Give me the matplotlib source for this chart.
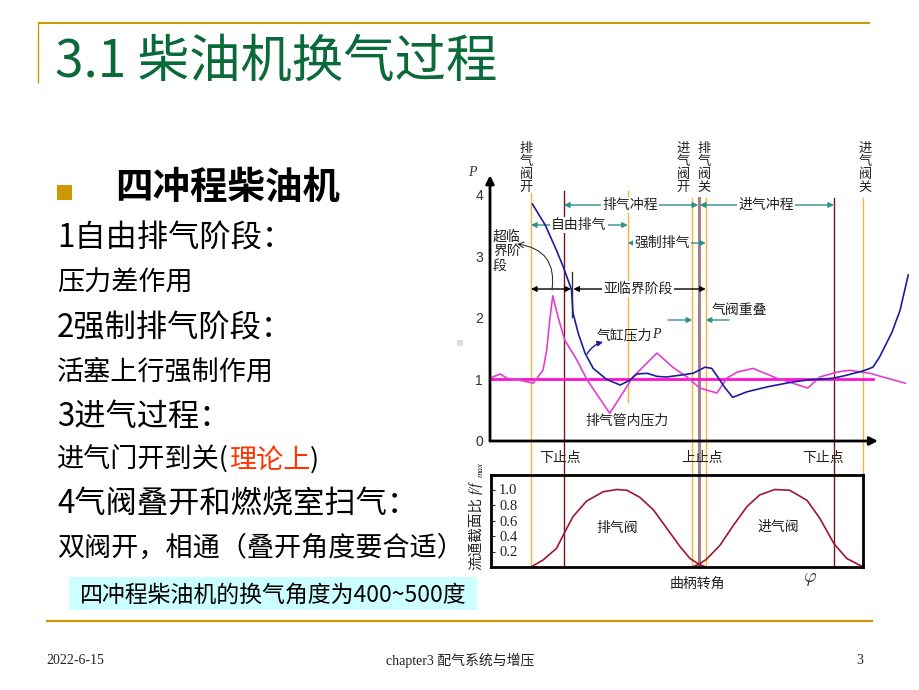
import matplotlib
matplotlib.use('Agg')
import matplotlib.pyplot as plt
from matplotlib import transforms
from matplotlib.patches import Rectangle

plt.rcParams['font.family'] = ['Noto Sans CJK SC', 'DejaVu Sans']
plt.rcParams['axes.unicode_minus'] = False

# ---------------- data (crank angle in degrees) ----------------
EVO, BDC1, FREE_END, IVO, TDC, EVC, BDC2, IVC = 136, 180, 265, 351, 360, 369, 540, 579
CRIT_END = 191          # end of the supercritical outflow phase

cyl_angle = [138, 155, 170, 179, 190, 192, 199, 208, 219, 237, 255, 268, 277, 291, 304,
             317, 335, 352, 368, 377, 385, 395, 405, 424, 451, 485, 504, 539, 557, 579,
             592, 601, 617, 628, 639]
cyl_p = [3.85, 3.51, 3.10, 2.83, 2.46, 2.08, 1.75, 1.43, 1.18, 1.00, 0.91, 0.99, 1.09, 1.10, 1.05,
         1.04, 1.07, 1.10, 1.20, 1.18, 1.04, 0.86, 0.71, 0.80, 0.88, 0.96, 0.99, 1.02, 1.07, 1.14,
         1.20, 1.37, 1.76, 2.12, 2.70]

pipe_angle = [81, 95, 104, 121, 139, 152, 157, 161, 165, 172, 181, 197, 211, 241, 272, 304,
              325, 344, 361, 384, 397, 411, 432, 464, 485, 505, 521, 544, 561, 588, 611, 635]
pipe_p = [1.02, 1.09, 1.02, 0.99, 0.94, 1.15, 1.48, 1.97, 2.36, 2.02, 1.64, 1.32, 0.99, 0.45, 1.04, 1.43,
          1.20, 1.04, 0.86, 0.78, 1.02, 1.12, 1.18, 1.02, 0.94, 0.86, 1.04, 1.12, 1.15, 1.10, 1.02, 0.94]

ambient_p = 1.0
ambient_range = [81, 592]

ex_angle = [136, 152, 170, 180, 192, 210, 232, 250, 264, 281, 299, 317, 335, 348, 360, 369]
ex_ratio = [0.0, 0.09, 0.24, 0.43, 0.65, 0.85, 0.97, 1.00, 0.99, 0.90, 0.74, 0.50, 0.26, 0.11, 0.035, 0.0]
in_angle = [351, 360, 370, 388, 406, 424, 441, 461, 481, 504, 521, 540, 557, 579]
in_ratio = [0.0, 0.035, 0.10, 0.28, 0.54, 0.78, 0.93, 1.00, 0.99, 0.86, 0.63, 0.30, 0.11, 0.0]

p_ticks = [0, 1, 2, 3, 4]
ratio_ticks = [0.2, 0.4, 0.6, 0.8, 1.0]
ratio_ticklabels = ['0.2', '0.4', '0.6', '0.8', '1.0']

# ---------------- layout helpers ----------------
W, H = 920, 690
fig = plt.figure(figsize=(W / 100, H / 100), dpi=100)
fig.patch.set_facecolor('white')


def rect(l, t, r, b):
    return [l / W, 1 - b / H, (r - l) / W, (b - t) / H]


A0, PPD = 429.0, 0.75       # pixel of 0 deg, pixels per degree


def ang(px):
    return (px - A0) / PPD


GOLD = '#cc9900'
GREEN = '#0a6a3a'
TEAL = '#2f9090'
ORANGE = '#f2b43c'
MAROON = '#7a1515'
BROWN = '#a88080'
BLUE = '#1c1ca0'
PINK = '#e040d0'
MAGENTA = '#ff10d0'
CRIMSON = '#a01535'

bg = fig.add_axes([0, 0, 1, 1])
bg.set_xlim(0, W)
bg.set_ylim(H, 0)
bg.axis('off')

ax1 = fig.add_axes(rect(490, 158, 920, 441))
ax1.set_xlim(ang(490), ang(920))
ax1.set_ylim(0, 4.6)
ax1.set_facecolor('none')
for s in ax1.spines.values():
    s.set_visible(False)
ax1.set_xticks([])
ax1.set_yticks(p_ticks)
ax1.set_yticklabels([str(v) for v in p_ticks], fontfamily='Liberation Sans', color='#333333')
ax1.tick_params(axis='y', length=0, labelsize=10, pad=5)

ax2 = fig.add_axes(rect(491, 475, 863, 567))
ax2.set_xlim(ang(491), ang(863))
ax2.set_ylim(0, 92 / 77.5)
ax2.set_facecolor('none')
for s in ax2.spines.values():
    s.set_linewidth(2)
ax2.set_xticks([])
ax2.set_yticks(ratio_ticks)
ax2.set_yticklabels(ratio_ticklabels, fontfamily='Liberation Serif', ha='right')
ax2.tick_params(axis='y', direction='in', length=3, labelsize=10.5, pad=-19, colors='#222222')

bl = transforms.blended_transform_factory(ax1.transData, bg.transData)

# vertical event lines (x = crank angle, y = pixel span)
vlines = [
    (EVO, 193, 567, ORANGE, 1.0),
    (BDC1, 191, 567, MAROON, 1.0),
    (FREE_END, 191, 402, ORANGE, 1.0),
    (IVO, 198, 567, ORANGE, 1.0),
    (TDC, 198, 567, BROWN, 2.2),
    (EVC, 198, 567, ORANGE, 1.0),
    (BDC2, 198, 567, MAROON, 1.0),
    (IVC, 198, 567, ORANGE, 1.0),
]
for a, t, b, c, lw in vlines:
    ax1.plot([a, a], [t, b], color=c, lw=lw, transform=bl, clip_on=False, zorder=1)

# curves
ax1.plot(ambient_range, [ambient_p, ambient_p], color=MAGENTA, lw=2.0, zorder=2)
ax1.plot(pipe_angle, pipe_p, color=PINK, lw=1.2, zorder=3, clip_on=False)
ax1.plot(cyl_angle, cyl_p, color=BLUE, lw=1.2, zorder=4, clip_on=False)
ax2.plot(ex_angle, ex_ratio, color=CRIMSON, lw=1.2)
ax2.plot(in_angle, in_ratio, color=CRIMSON, lw=1.2)

# axes arrows of the pressure plot
ax1.annotate('', xy=(ang(878), 0), xytext=(ang(490), 0),
             arrowprops=dict(arrowstyle='-|>', color='black', lw=2, mutation_scale=12,
                             shrinkA=0, shrinkB=0), annotation_clip=False)
ax1.annotate('', xy=(ang(490), 4.32), xytext=(ang(490), 0),
             arrowprops=dict(arrowstyle='-|>', color='black', lw=2, mutation_scale=12,
                             shrinkA=0, shrinkB=0), annotation_clip=False)


def harrow(x1, x2, ypx, color, style='<|-|>', lw=1.0):
    ax1.annotate('', xy=(x2, ypx), xytext=(x1, ypx), xycoords=bl, textcoords=bl,
                 arrowprops=dict(arrowstyle=style, color=color, lw=lw, shrinkA=0, shrinkB=0,
                                 mutation_scale=8), annotation_clip=False)


harrow(BDC1, TDC - 1, 205, TEAL)
harrow(TDC + 1, BDC2, 205, TEAL)
harrow(EVO, FREE_END, 225, TEAL)
harrow(FREE_END, EVC, 243, TEAL)
harrow(EVO, CRIT_END - 1.5, 289, 'black')
harrow(CRIT_END + 1.5, EVC, 289, 'black')
harrow(ang(668), IVO, 320, TEAL, style='-|>')
harrow(ang(729), EVC, 320, TEAL, style='-|>')
ax1.plot([CRIT_END, CRIT_END], [272, 317], color='#333333', lw=1, transform=bl, clip_on=False)

# ---------------- foreground text for the chart ----------------
fg = fig.add_axes([0, 0, 1, 1], zorder=10)
fg.set_xlim(0, W)
fg.set_ylim(H, 0)
fg.axis('off')
fg.patch.set_alpha(0)

renderer = fig.canvas.get_renderer()


def run_text(ax, x, y, parts, **kw):
    for s, extra in parts:
        opts = dict(kw)
        opts.update(extra)
        t = ax.text(x, y, s, ha='left', va='center', **opts)
        x += t.get_window_extent(renderer=renderer).width


LBL = dict(fontsize=10, color='#222222')
WB = dict(facecolor='white', edgecolor='none', pad=1.0)

for x, s in [(526, '排\n气\n阀\n开'), (683, '进\n气\n阀\n开'), (704, '排\n气\n阀\n关'), (865, '进\n气\n阀\n关')]:
    fg.text(x, 168, s, ha='center', va='center', fontsize=9.5, linespacing=1.0, color='#222222')

fg.text(630, 205, '排气冲程', ha='center', va='center', bbox=WB, **LBL)
fg.text(766, 205, '进气冲程', ha='center', va='center', bbox=WB, **LBL)
fg.text(579, 225, '自由排气', ha='center', va='center', bbox=WB, **LBL)
fg.text(662, 243, '强制排气', ha='center', va='center', bbox=WB, **LBL)
fg.text(638, 289, '亚临界阶段', ha='center', va='center', bbox=WB, **LBL)
fg.text(493, 251, '超临\n界阶\n段', ha='left', va='center', linespacing=1.05, **LBL)
fg.annotate('', xy=(517, 244), xytext=(552, 290),
            arrowprops=dict(arrowstyle='->', color='#333333', lw=0.8, shrinkA=0, shrinkB=0,
                            connectionstyle='arc3,rad=0.5'))
fg.text(712, 310, '气阀重叠', ha='left', va='center', **LBL)
run_text(fg, 597, 335, [('气缸压力', {}), ('P', dict(fontfamily='Liberation Serif', style='italic'))], **LBL)
fg.annotate('', xy=(603, 342), xytext=(587, 354),
            arrowprops=dict(arrowstyle='-|>', color=BLUE, lw=1, mutation_scale=8, shrinkA=0, shrinkB=0,
                            connectionstyle='arc3,rad=-0.2'))
fg.text(627, 420, '排气管内压力', ha='center', va='center', **LBL)
fg.text(560, 458, '下止点', ha='center', va='center', **LBL)
fg.text(702, 458, '上止点', ha='center', va='center', **LBL)
fg.text(823, 458, '下止点', ha='center', va='center', **LBL)
fg.text(472, 173, 'P', ha='center', va='center', fontsize=10, fontfamily='Liberation Serif',
        style='italic', color='#333333')
fg.text(617, 528, '排气阀', ha='center', va='center', **LBL)
fg.text(778, 527, '进气阀', ha='center', va='center', **LBL)
fg.text(697, 584, '曲柄转角', ha='center', va='center', **LBL)
fg.text(810, 578, r'$\varphi$', ha='center', va='center', fontsize=14, color='#222222',
        math_fontfamily='cm')
fg.text(476, 570, '流通截面比', rotation=90, ha='center', va='bottom', fontsize=10.5, color='#222222')
fg.text(476, 494, 'f/f', rotation=90, ha='center', va='bottom', fontsize=10.5, color='#222222',
        fontfamily='Liberation Serif', style='italic')
fg.text(481, 477, 'max', rotation=90, ha='center', va='bottom', fontsize=6.5, color='#222222',
        fontfamily='Liberation Serif', style='italic')

# ---------------- slide decoration ----------------
bg.plot([38, 870], [23, 23], color=GOLD, lw=1.5, solid_capstyle='butt')
bg.plot([38, 38], [23, 83], color=GOLD, lw=1.0, solid_capstyle='butt')
bg.plot([46, 873], [621, 621], color=GOLD, lw=1.6, solid_capstyle='butt')
bg.add_patch(Rectangle((57, 185), 15, 15, facecolor=GOLD, edgecolor='none'))
bg.add_patch(Rectangle((457, 340), 6, 6, facecolor='#dddddd', edgecolor='none'))
bg.add_patch(Rectangle((69, 577), 408, 33, facecolor='#ccffff', edgecolor='none'))

bg.text(55, 62, '3.1 柴油机换气过程', fontsize=37, fontweight='light', color=GREEN, ha='left', va='center')
bg.text(115, 188, '四冲程柴油机', fontsize=27, fontweight='bold', color='black', ha='left', va='center')

big = dict(fontsize=22.5, color='black')
small = dict(fontsize=19.5, color='black')
bg.text(57, 238, '1自由排气阶段：', ha='left', va='center', **big)
bg.text(57, 283, '压力差作用', ha='left', va='center', **small)
bg.text(57, 328, '2强制排气阶段：', ha='left', va='center', **big)
bg.text(57, 372, '活塞上行强制作用', ha='left', va='center', **small)
bg.text(57, 417, '3进气过程：', ha='left', va='center', **big)
run_text(bg, 57, 460, [('进气门开到关(', {}), ('理论上', dict(color='#ff3300')), (')', {})], fontsize=19.5)
bg.text(57, 505, '4气阀叠开和燃烧室扫气：', ha='left', va='center', **big)
bg.text(57, 548, '双阀开，相通（叠开角度要合适）', ha='left', va='center', **small)
bg.text(80, 595, '四冲程柴油机的换气角度为400~500度', ha='left', va='center', fontsize=16.5, color='black')

foot = dict(fontsize=10, color='#222222', fontfamily=['Liberation Serif', 'Noto Sans CJK SC'])
bg.text(46, 660, '2022-6-15', ha='left', va='center', **foot)
bg.text(460, 660, 'chapter3 配气系统与增压', ha='center', va='center', **foot)
bg.text(863, 660, '3', ha='right', va='center', **foot)

fig.savefig('out.png', dpi=100)
